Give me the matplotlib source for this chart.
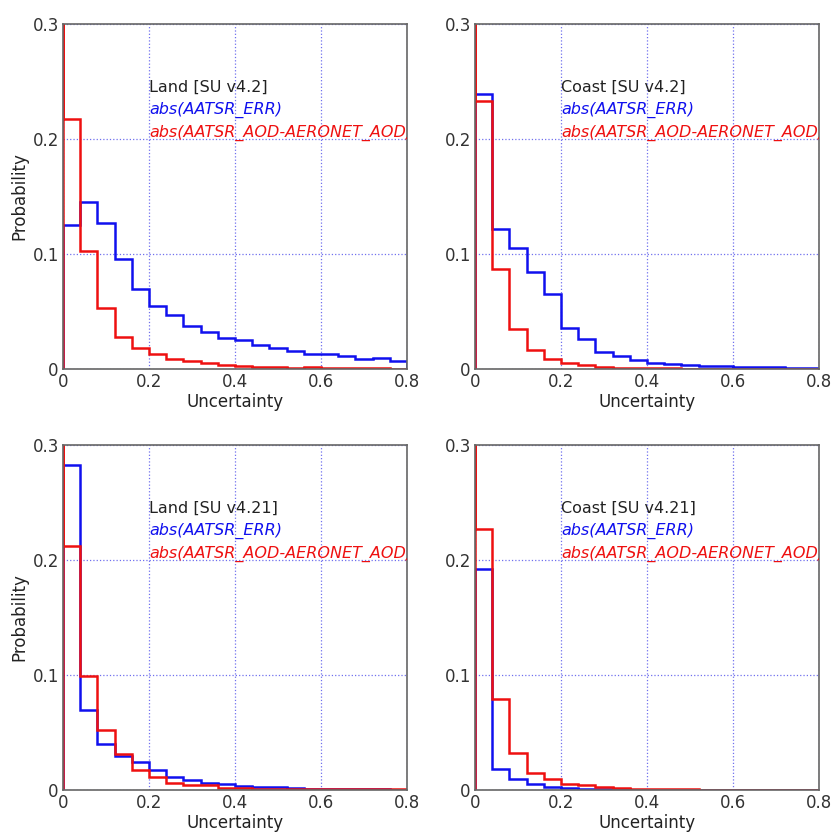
import numpy as np
import matplotlib
matplotlib.use("Agg")
import matplotlib.pyplot as plt

edges = np.round(np.arange(0, 0.8001, 0.04), 2)
spike_width = 0.001
spike_value = 0.40  # red spike at zero (clipped at top)

titles = ["Land [SU v4.2]", "Coast [SU v4.2]", "Land [SU v4.21]", "Coast [SU v4.21]"]
label_err = "abs(AATSR_ERR)"
label_diff = "abs(AATSR_AOD-AERONET_AOD)"

land42_err = [0.125, 0.145, 0.127, 0.096, 0.070, 0.055, 0.047, 0.037, 0.032, 0.027,
              0.025, 0.021, 0.0186, 0.0154, 0.0128, 0.0128, 0.011, 0.009, 0.010, 0.007]
land42_diff = [0.217, 0.103, 0.053, 0.028, 0.018, 0.013, 0.0087, 0.007, 0.005, 0.0035,
               0.0026, 0.002, 0.0015, 0.001, 0.0017, 0.001, 0.0008, 0.0006, 0.0005, 0.0003]
coast42_err = [0.239, 0.122, 0.105, 0.084, 0.065, 0.036, 0.026, 0.015, 0.011, 0.008,
               0.005, 0.0045, 0.0035, 0.0026, 0.0023, 0.002, 0.0017, 0.002, 0.001, 0.001]
coast42_diff = [0.233, 0.087, 0.035, 0.0165, 0.0084, 0.0055, 0.0035, 0.002, 0.001, 0.0008,
                0.0006, 0.0005, 0.0004, 0.0003, 0.0003, 0.0003, 0.0002, 0.0002, 0.0002, 0.0002]
land421_err = [0.283, 0.070, 0.040, 0.030, 0.024, 0.0174, 0.0113, 0.0084, 0.0064, 0.005,
               0.0035, 0.003, 0.0023, 0.0015, 0.0012, 0.001, 0.0008, 0.0006, 0.0005, 0.0004]
land421_diff = [0.212, 0.099, 0.052, 0.0316, 0.0174, 0.0116, 0.0058, 0.0046, 0.004, 0.002,
                0.0015, 0.0012, 0.001, 0.0008, 0.0008, 0.0006, 0.0005, 0.0005, 0.0006, 0.0008]
coast421_err = [0.192, 0.018, 0.0093, 0.0055, 0.003, 0.0017, 0.0012, 0.0008, 0.0005, 0.0002,
                0.0002, 0.0002, 0.0002, 0.0002, 0.0002, 0.0002, 0.0002, 0.0002, 0.0002, 0.0002]
coast421_diff = [0.227, 0.079, 0.032, 0.015, 0.0093, 0.0055, 0.004, 0.003, 0.002, 0.0012,
                 0.001, 0.0005, 0.0005, 0.0004, 0.0003, 0.0003, 0.0003, 0.0002, 0.0002, 0.0002]

err_sets = [land42_err, coast42_err, land421_err, coast421_err]
diff_sets = [land42_diff, coast42_diff, land421_diff, coast421_diff]

xticks = [0, 0.2, 0.4, 0.6, 0.8]
xticklabels = ["0", "0.2", "0.4", "0.6", "0.8"]
yticks = [0, 0.1, 0.2, 0.3]
yticklabels = ["0", "0.1", "0.2", "0.3"]

W = 832.0
rects = [(63, 24, 344, 345), (475, 24, 344, 345), (63, 445, 344, 345), (475, 445, 344, 345)]

fig = plt.figure(figsize=(8.32, 8.32), dpi=100)
fig.patch.set_facecolor("white")

blue = "#1010ee"
red = "#ee1010"
for i, (px, py, pw, ph) in enumerate(rects):
    ax = fig.add_axes([px / W, 1 - (py + ph) / W, pw / W, ph / W])
    ax.set_xlim(0, 0.8)
    ax.set_ylim(0, 0.3)
    ax.grid(True, color="#7070ee", linestyle=":", linewidth=0.9)
    ax.set_axisbelow(True)
    ax.stairs(err_sets[i], edges, color=blue, linewidth=1.8, baseline=0)
    red_edges = np.concatenate([[0, spike_width], edges[1:]])
    red_vals = [spike_value] + list(diff_sets[i])
    ax.stairs(red_vals, red_edges, color=red, linewidth=1.8, baseline=0)
    ax.set_xticks(xticks)
    ax.set_xticklabels(xticklabels)
    ax.set_yticks(yticks)
    ax.set_yticklabels(yticklabels)
    ax.tick_params(axis="both", labelsize=12, colors="#333333", direction="in", length=0, pad=3)
    for s in ax.spines.values():
        s.set_color("#666666")
        s.set_linewidth(1.2)
    ax.set_xlabel("Uncertainty", fontsize=12, color="#222222", labelpad=1)
    if i % 2 == 0:
        ax.set_ylabel("Probability", fontsize=12, color="#222222", labelpad=3)
    ax.text(0.2, 0.245, titles[i], fontsize=11.5, color="#222222", va="center", ha="left")
    ax.text(0.2, 0.225, label_err, fontsize=11.5, color=blue, style="italic", va="center", ha="left")
    ax.text(0.2, 0.205, label_diff, fontsize=11.5, color=red, style="italic", va="center", ha="left",
            clip_on=True)

fig.savefig("out.png", dpi=100)
